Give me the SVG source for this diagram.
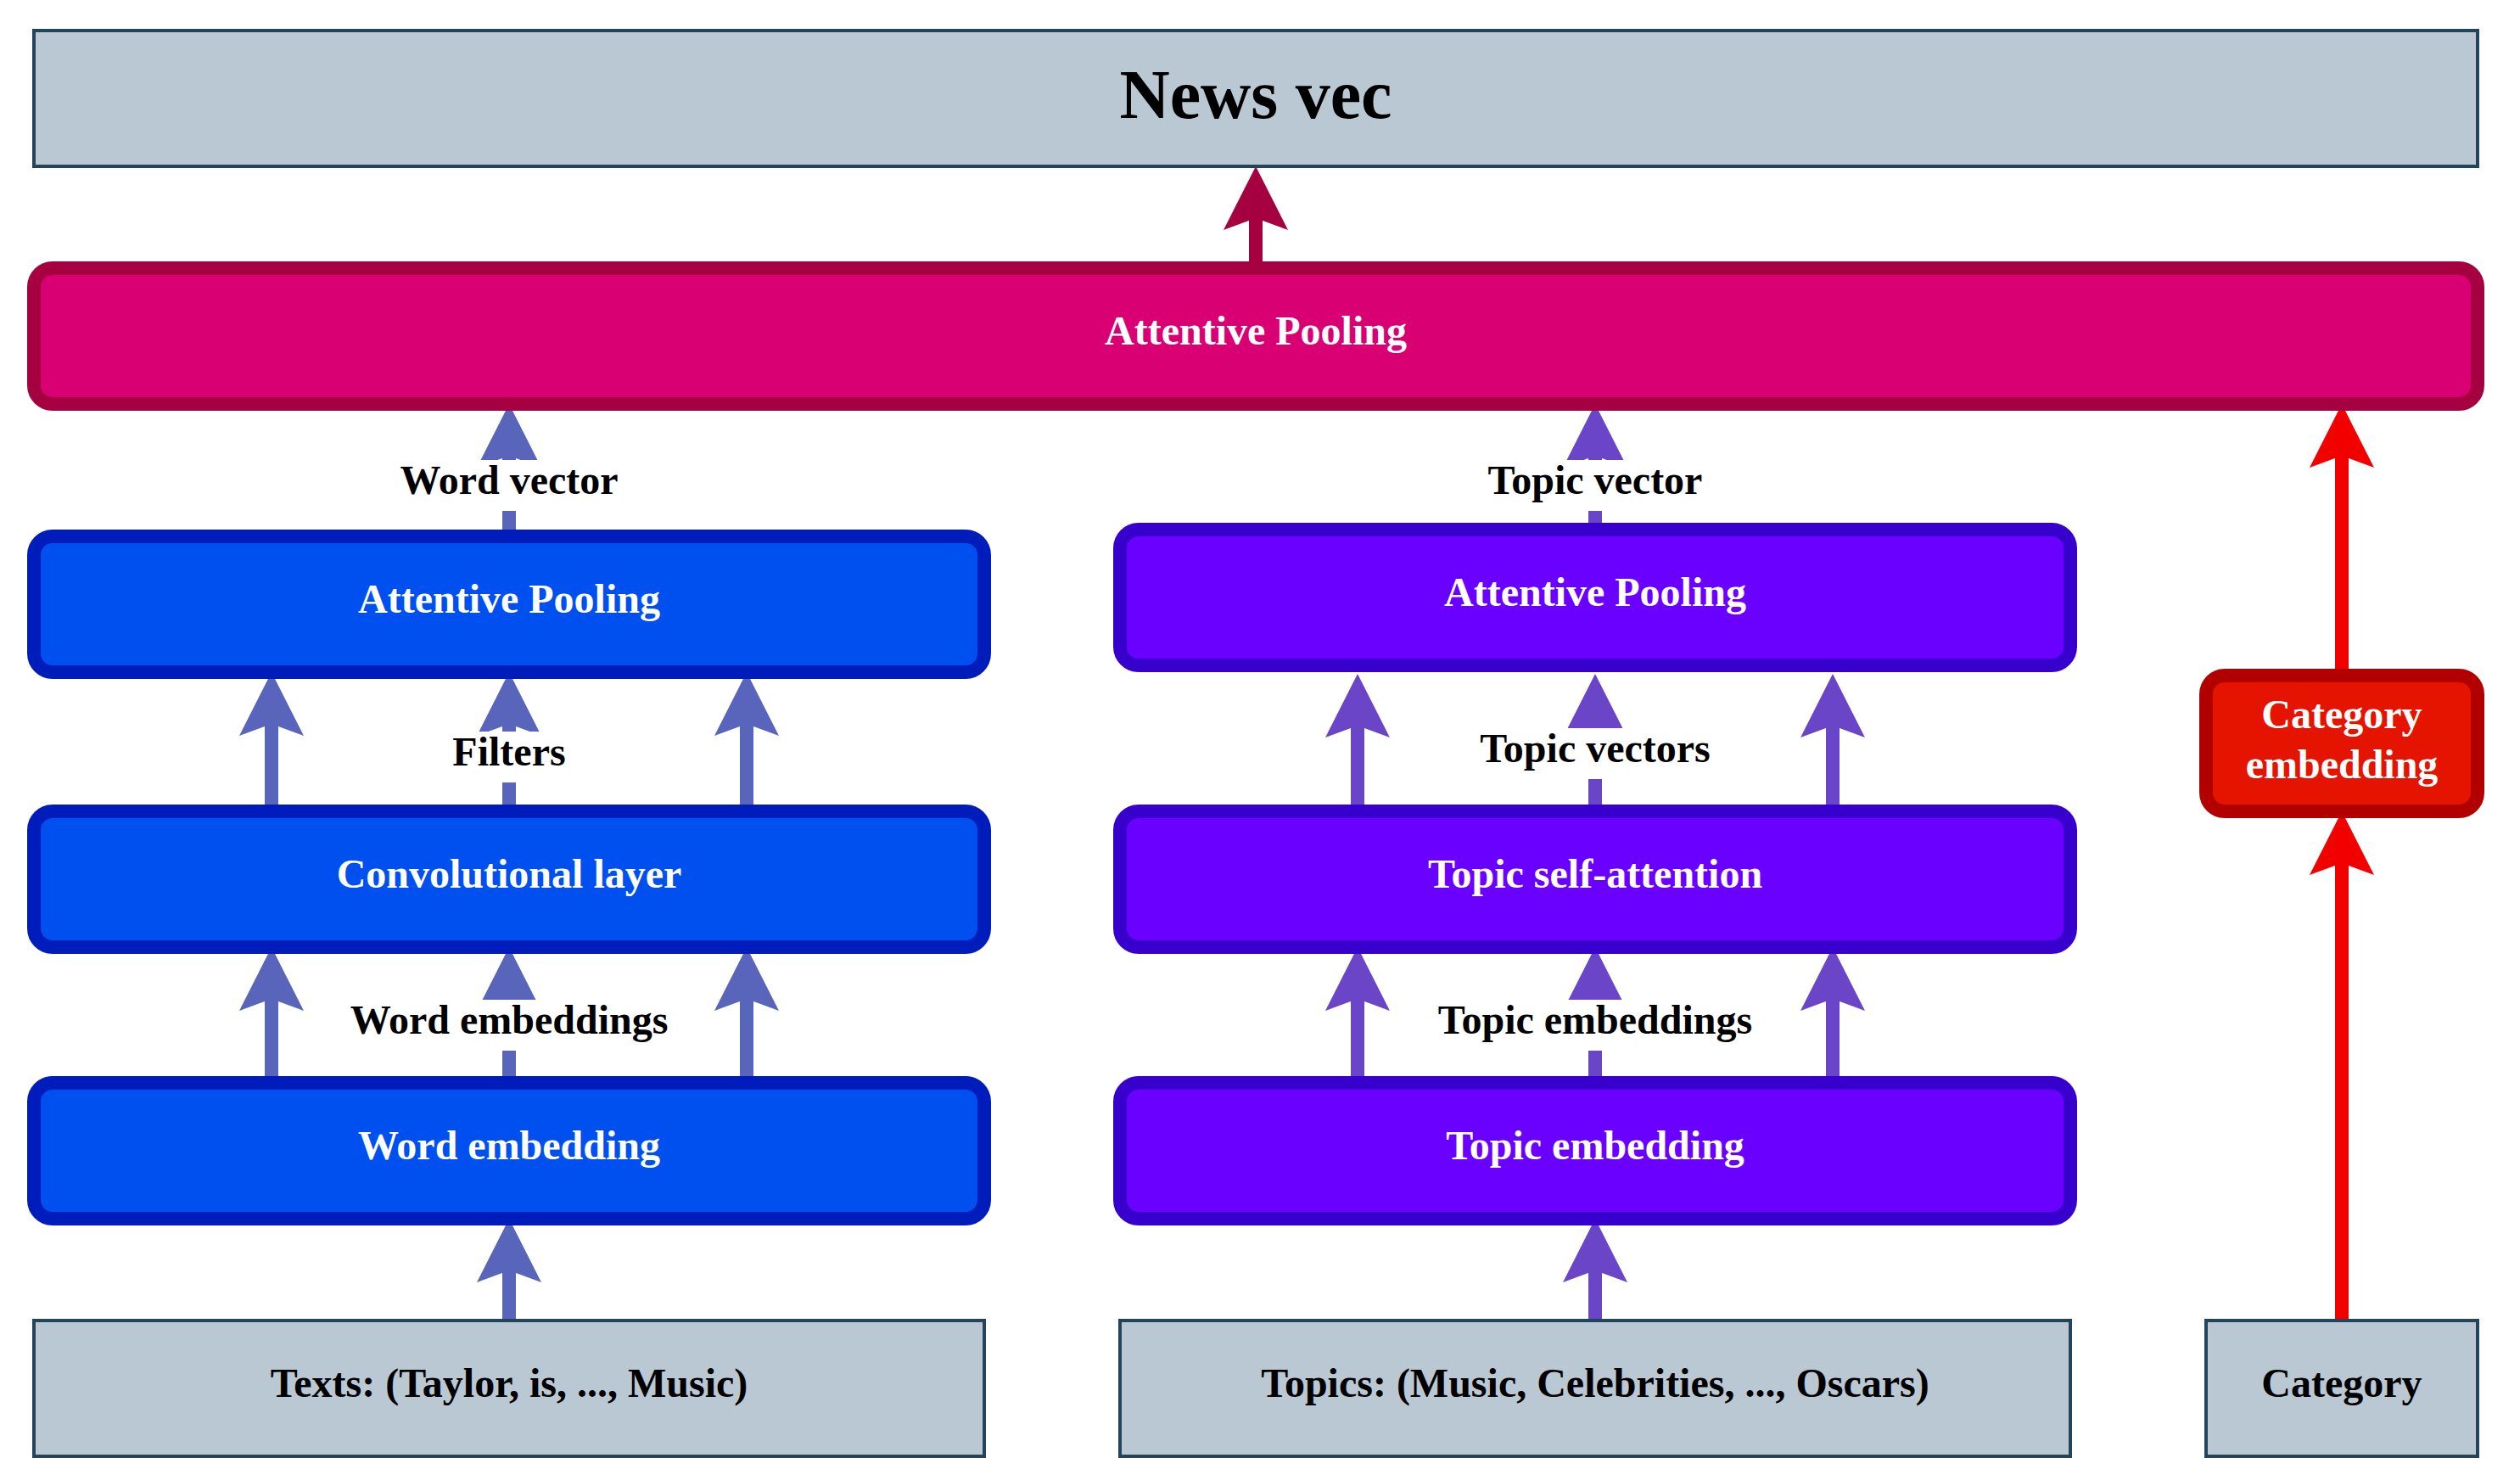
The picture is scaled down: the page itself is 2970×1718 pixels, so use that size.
<svg xmlns="http://www.w3.org/2000/svg" width="2970" height="1718" viewBox="0 0 2970 1718">
<style>
text{font-family:"Liberation Serif","Times New Roman",serif;font-weight:bold;text-anchor:middle;}
.t48{font-size:48px;}
.white{fill:#ffffff;}
.black{fill:#000000;}
.gray{fill:#bac8d3;stroke:#23445d;stroke-width:4;}
.pink{fill:#d80073;stroke:#a50040;stroke-width:16;}
.blue{fill:#0050ef;stroke:#001dbc;stroke-width:16;}
.purple{fill:#6a00ff;stroke:#3700cc;stroke-width:16;}
.red{fill:#e51400;stroke:#b20000;stroke-width:16;}
.e{fill:none;stroke-width:16;}
.eb{stroke:#5965ba;marker-end:url(#mb);}
.ep{stroke:#6a45c8;marker-end:url(#mp);}
.er{stroke:#f20000;marker-end:url(#mr);}
.em{stroke:#a50040;marker-end:url(#mm);}
.lbg{fill:#ffffff;}
</style>
<defs>
<marker id="mb" markerUnits="userSpaceOnUse" viewBox="-20 -40 90 80" markerWidth="90" markerHeight="80" refX="0" refY="0" orient="auto"><path d="M61,0 L-14,-38 L0,0 L-14,38 Z" fill="#5965ba"/></marker>
<marker id="mp" markerUnits="userSpaceOnUse" viewBox="-20 -40 90 80" markerWidth="90" markerHeight="80" refX="0" refY="0" orient="auto"><path d="M61,0 L-14,-38 L0,0 L-14,38 Z" fill="#6a45c8"/></marker>
<marker id="mr" markerUnits="userSpaceOnUse" viewBox="-20 -40 90 80" markerWidth="90" markerHeight="80" refX="0" refY="0" orient="auto"><path d="M61,0 L-14,-38 L0,0 L-14,38 Z" fill="#f20000"/></marker>
<marker id="mm" markerUnits="userSpaceOnUse" viewBox="-20 -40 90 80" markerWidth="90" markerHeight="80" refX="0" refY="0" orient="auto"><path d="M61,0 L-14,-38 L0,0 L-14,38 Z" fill="#a50040"/></marker>
</defs>
<rect width="2970" height="1718" fill="#ffffff"/>
<g id="connectors">
<!-- word column -->
<path class="e eb" d="M600,1556 L600,1497"/>
<path class="e eb" d="M320,1276 L320,1177"/>
<path class="e eb" d="M600,1276 L600,1177"/>
<path class="e eb" d="M880,1276 L880,1177"/>
<path class="e eb" d="M320,956 L320,853"/>
<path class="e eb" d="M600,956 L600,853"/>
<path class="e eb" d="M880,956 L880,853"/>
<path class="e eb" d="M600,632 L600,537"/>
<!-- topic column -->
<path class="e ep" d="M1880,1556 L1880,1497"/>
<path class="e ep" d="M1600,1276 L1600,1177"/>
<path class="e ep" d="M1880,1276 L1880,1177"/>
<path class="e ep" d="M2160,1276 L2160,1177"/>
<path class="e ep" d="M1600,956 L1600,855"/>
<path class="e ep" d="M1880,956 L1880,855"/>
<path class="e ep" d="M2160,956 L2160,855"/>
<path class="e ep" d="M1880,624 L1880,537"/>
<!-- category -->
<path class="e er" d="M2760,1556 L2760,1017"/>
<path class="e er" d="M2760,796 L2760,537"/>
<!-- news -->
<path class="e em" d="M1480,316 L1480,257"/>
<!-- edge labels -->
<g id="edge-labels">
<rect class="lbg" x="468" y="542" width="264" height="60"/>
<text class="t48 black" x="600" y="582">Word vector</text>
<rect class="lbg" x="530" y="862" width="140" height="60"/>
<text class="t48 black" x="600" y="902">Filters</text>
<rect class="lbg" x="410" y="1178" width="380" height="60"/>
<text class="t48 black" x="600" y="1218">Word embeddings</text>
<rect class="lbg" x="1748" y="542" width="264" height="60"/>
<text class="t48 black" x="1880" y="582">Topic vector</text>
<rect class="lbg" x="1738" y="858" width="284" height="60"/>
<text class="t48 black" x="1880" y="898">Topic vectors</text>
<rect class="lbg" x="1690" y="1178" width="380" height="60"/>
<text class="t48 black" x="1880" y="1218">Topic embeddings</text>
</g>
</g>
<g id="news-vec">
<rect class="gray" x="40" y="36" width="2880" height="160"/>
<text x="1480" y="139" font-size="82" class="black">News vec</text>
</g>
<g id="attentive-pooling-news">
<rect class="pink" x="40" y="316" width="2880" height="160" rx="22" ry="22"/>
<text class="t48 white" x="1480" y="406">Attentive Pooling</text>
</g>
<g id="attentive-pooling-word">
<rect class="blue" x="40" y="632" width="1120" height="160" rx="22" ry="22"/>
<text class="t48 white" x="600" y="722">Attentive Pooling</text>
</g>
<g id="convolutional-layer">
<rect class="blue" x="40" y="956" width="1120" height="160" rx="22" ry="22"/>
<text class="t48 white" x="600" y="1046">Convolutional layer</text>
</g>
<g id="word-embedding">
<rect class="blue" x="40" y="1276" width="1120" height="160" rx="22" ry="22"/>
<text class="t48 white" x="600" y="1366">Word embedding</text>
</g>
<g id="texts">
<rect class="gray" x="40" y="1556" width="1120" height="160"/>
<text class="t48 black" x="600" y="1646">Texts: (Taylor, is, ..., Music)</text>
</g>
<g id="attentive-pooling-topic">
<rect class="purple" x="1320" y="624" width="1120" height="160" rx="22" ry="22"/>
<text class="t48 white" x="1880" y="714">Attentive Pooling</text>
</g>
<g id="topic-self-attention">
<rect class="purple" x="1320" y="956" width="1120" height="160" rx="22" ry="22"/>
<text class="t48 white" x="1880" y="1046">Topic self-attention</text>
</g>
<g id="topic-embedding">
<rect class="purple" x="1320" y="1276" width="1120" height="160" rx="22" ry="22"/>
<text class="t48 white" x="1880" y="1366">Topic embedding</text>
</g>
<g id="topics">
<rect class="gray" x="1320" y="1556" width="1120" height="160"/>
<text class="t48 black" x="1880" y="1646">Topics: (Music, Celebrities, ..., Oscars)</text>
</g>
<g id="category-embedding">
<rect class="red" x="2600" y="796" width="320" height="160" rx="22" ry="22"/>
<text class="t48 white" x="2760" y="858">Category</text>
<text class="t48 white" x="2760" y="917">embedding</text>
</g>
<g id="category">
<rect class="gray" x="2600" y="1556" width="320" height="160"/>
<text class="t48 black" x="2760" y="1646">Category</text>
</g>
</svg>
